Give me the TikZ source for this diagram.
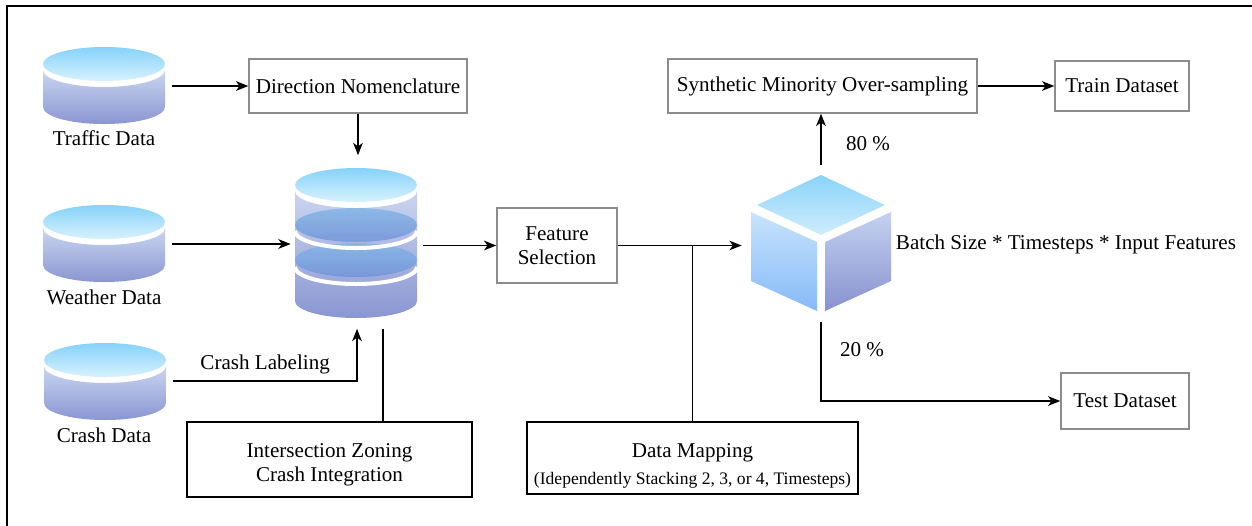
\documentclass[tikz,border=0pt]{standalone}
\usepackage{fontspec}
\setmainfont{Liberation Serif}
\usetikzlibrary{arrows.meta}
\definecolor{toptop}{HTML}{86D2FA}
\definecolor{topbot}{HTML}{D8F2FD}
\definecolor{bodytop}{HTML}{CAD6F0}
\definecolor{bodybot}{HTML}{8A96D2}
\definecolor{darktop}{HTML}{80B4E6}
\definecolor{darkbot}{HTML}{6F92D8}
\definecolor{boxgray}{HTML}{8C8C8C}
\definecolor{cubetopa}{HTML}{8AD3FA}
\definecolor{cubetopb}{HTML}{D0EDFC}
\definecolor{cubelefta}{HTML}{C8E3FC}
\definecolor{cubeleftb}{HTML}{86BAF8}
\definecolor{cuberighta}{HTML}{C4D2F1}
\definecolor{cuberightb}{HTML}{8891CF}
% database disk: centre x, y of top face
\newcommand{\dbcyl}[2]{%
  \shade[top color=bodytop, bottom color=bodybot] (#1-61,#2+6) -- (#1-61,#2+43)
    arc[start angle=180, end angle=0, x radius=61, y radius=17] -- (#1+61,#2+6)
    arc[start angle=0, end angle=180, x radius=61, y radius=17] -- cycle;
  \shade[top color=toptop, bottom color=topbot] (#1,#2) ellipse[x radius=61, y radius=17];}
\begin{document}
\begin{tikzpicture}[>={Stealth[length=7pt, width=5.5pt, inset=2pt]}, x=0.02cm, y=-0.02cm,
    every node/.style={font=\fontsize{12}{14}\selectfont},
    gbox/.style={draw=boxgray, line width=.8pt, align=center},
    kbox/.style={draw, line width=1pt, align=center},
    dbnode/.style={minimum width=2.72cm, minimum height=1.54cm}]
    \useasboundingbox (0,0) rectangle (1252,525);
    \draw[line width=.8pt] (7,6) rectangle (1270,545);
    % sources
    \dbcyl{104}{64}
    \dbcyl{104}{222}
    \dbcyl{105}{360}
    \node[dbnode] (traffic) at (104,86) {};
    \node[dbnode] (weather) at (104,244) {};
    \node[dbnode] (crash) at (105,381) {};
    \node (traffictxt) at (104,138) {Traffic Data};
    \node (weathertxt) at (104,297) {Weather Data};
    \node (crashtxt) at (104,435) {Crash Data};
    % merged database
    \shade[top color=bodytop, bottom color=bodybot] (295,191) -- (295,301)
        arc[start angle=180, end angle=0, x radius=61, y radius=17] -- (417,191)
        arc[start angle=0, end angle=180, x radius=61, y radius=17] -- cycle;
    \foreach \c in {225,260}
        \shade[top color=darktop, bottom color=darkbot, opacity=.8] (356,\c) ellipse[x radius=61, y radius=17];
    \foreach \c in {231,267}
        \draw[white, line width=.08cm] (417,\c) arc[start angle=0, end angle=180, x radius=61, y radius=17];
    \shade[top color=toptop, bottom color=topbot] (356,185) ellipse[x radius=61, y radius=17];
    \node[minimum width=2.64cm, minimum height=3.46cm] (stack) at (357,242) {};
    % boxes
    \node[gbox, minimum width=4.36cm, minimum height=1.08cm] (dirnom) at (358,86) {Direction Nomenclature};
    \node[gbox, minimum width=2.4cm, minimum height=1.5cm] (fsel) at (557,245.5) {Feature\\Selection};
    \node[kbox, minimum width=5.7cm, minimum height=1.5cm] (izone) at (329.5,459.5) {\rule{0pt}{14pt}Intersection Zoning\\Crash Integration};
    \node[kbox, minimum width=6.62cm, minimum height=1.44cm] (dmap) at (692.5,458) {\rule{0pt}{17pt}Data Mapping\\[1pt]{\fontsize{10}{12}\selectfont (Idependently Stacking 2, 3, or 4, Timesteps)}};
    \node[gbox, minimum width=6.18cm, minimum height=1.08cm] (smote) at (822.5,86) {Synthetic Minority Over-sampling};
    \node[gbox, minimum width=2.68cm, minimum height=1cm] (train) at (1122,86) {Train Dataset};
    \node[gbox, minimum width=2.56cm, minimum height=1.12cm] (test) at (1125,401) {Test Dataset};
    % tensor cube
    \shade[top color=cubetopa, bottom color=cubetopb] (821,175) -- (885,205) -- (821,235) -- (757,205) -- cycle;
    \shade[top color=cubelefta, bottom color=cubeleftb] (751,212) -- (817,242) -- (817,311) -- (751,281) -- cycle;
    \shade[top color=cuberighta, bottom color=cuberightb] (825,242) -- (891,212) -- (891,281) -- (825,311) -- cycle;
    \node[minimum width=3.16cm, minimum height=3.14cm] (cube) at (821,243.5) {};
    \node (cubetxt) at (1066,244) {Batch Size * Timesteps * Input Features};
    \node (pct80) at (868,144) {80 \%};
    \node (pct20) at (862,350) {20 \%};
    % connectors
    \draw[->, thick] (traffic.east) -- (dirnom.west);
    \draw[->, thick] (dirnom.south) -- (dirnom.south |- stack.north);
    \draw[->, thick] (weather.east) -- (weather.east -| stack.west);
    \draw[->, thick] (crash.east) -| node[pos=.25, above] (crashlbl) {Crash Labeling} (stack.south);
    \draw[thick] ([xshift=1.07cm]izone.north) -- ([xshift=1.07cm]izone.north |- stack.south);
    \draw[->, thick] (stack.east |- fsel.west) -- (fsel.west);
    \draw[->, thick] (fsel.east) -- (fsel.east -| cube.west);
    \draw[thick] (dmap.north) -- (dmap.north |- fsel.east);
    \draw[->, thick] (cube.north) -- (cube.north |- smote.south);
    \draw[->, thick] (smote.east) -- (train.west);
    \draw[->, thick] (cube.south) |- (test.west);
\end{tikzpicture}
\end{document}
